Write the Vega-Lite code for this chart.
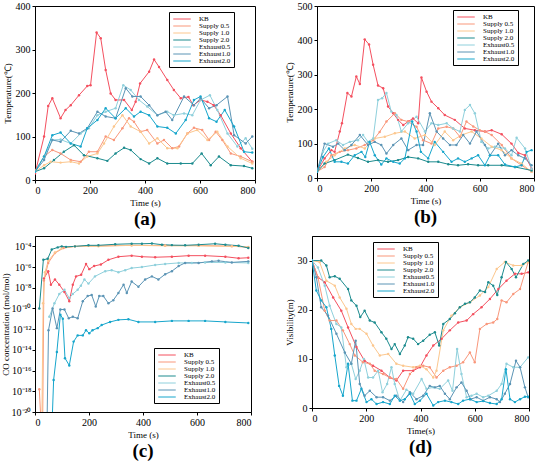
{
  "$schema": "https://vega.github.io/schema/vega-lite/v6.json",
  "padding": {"left": 0, "top": 0, "right": 2, "bottom": 0},
  "config": {
    "font": "Liberation Serif",
    "view": {"stroke": "black", "strokeWidth": 1},
    "axis": {
      "grid": false,
      "domainColor": "black",
      "tickColor": "black",
      "labelColor": "black",
      "titleColor": "black",
      "labelFontSize": 10,
      "titleFontSize": 9,
      "titleFontWeight": "normal",
      "tickSize": 3,
      "labelPadding": 2,
      "titlePadding": 3
    },
    "title": {"fontSize": 19, "fontWeight": "bold", "orient": "bottom", "offset": 3, "color": "black"},
    "legend": {
      "title": null,
      "orient": "none",
      "fillColor": "white",
      "strokeColor": "black",
      "padding": 3,
      "symbolType": "M-2.5,0H2.5",
      "symbolSize": 49,
      "symbolOffset": 6,
      "symbolStrokeWidth": 1.2,
      "labelFontSize": 7,
      "labelOffset": 13,
      "rowPadding": 0
    }
  },
  "datasets": {
    "a": [
      {"s":"KB","t":0,"v":15},{"s":"KB","t":33,"v":100},{"s":"KB","t":48,"v":170},{"s":"KB","t":63,"v":188},{"s":"KB","t":93,"v":142},{"s":"KB","t":111,"v":161},{"s":"KB","t":130,"v":172},{"s":"KB","t":160,"v":195},{"s":"KB","t":190,"v":216},{"s":"KB","t":202,"v":218},{"s":"KB","t":224,"v":339},{"s":"KB","t":239,"v":326},{"s":"KB","t":257,"v":253},{"s":"KB","t":275,"v":199},{"s":"KB","t":293,"v":184},{"s":"KB","t":324,"v":184},{"s":"KB","t":352,"v":161},{"s":"KB","t":366,"v":180},{"s":"KB","t":382,"v":222},{"s":"KB","t":415,"v":249},{"s":"KB","t":433,"v":277},{"s":"KB","t":451,"v":260},{"s":"KB","t":481,"v":230},{"s":"KB","t":505,"v":207},{"s":"KB","t":530,"v":188},{"s":"KB","t":558,"v":191},{"s":"KB","t":576,"v":172},{"s":"KB","t":602,"v":184},{"s":"KB","t":627,"v":180},{"s":"KB","t":650,"v":172},{"s":"KB","t":675,"v":149},{"s":"KB","t":712,"v":107},{"s":"KB","t":748,"v":73},{"s":"KB","t":790,"v":42},
      {"s":"Supply 0.5","t":0,"v":21},{"s":"Supply 0.5","t":33,"v":54},{"s":"Supply 0.5","t":63,"v":69},{"s":"Supply 0.5","t":93,"v":61},{"s":"Supply 0.5","t":130,"v":46},{"s":"Supply 0.5","t":166,"v":42},{"s":"Supply 0.5","t":196,"v":65},{"s":"Supply 0.5","t":227,"v":65},{"s":"Supply 0.5","t":257,"v":100},{"s":"Supply 0.5","t":287,"v":92},{"s":"Supply 0.5","t":318,"v":119},{"s":"Supply 0.5","t":342,"v":142},{"s":"Supply 0.5","t":360,"v":134},{"s":"Supply 0.5","t":384,"v":111},{"s":"Supply 0.5","t":408,"v":115},{"s":"Supply 0.5","t":445,"v":84},{"s":"Supply 0.5","t":469,"v":92},{"s":"Supply 0.5","t":499,"v":73},{"s":"Supply 0.5","t":524,"v":77},{"s":"Supply 0.5","t":554,"v":107},{"s":"Supply 0.5","t":578,"v":120},{"s":"Supply 0.5","t":608,"v":115},{"s":"Supply 0.5","t":633,"v":92},{"s":"Supply 0.5","t":657,"v":111},{"s":"Supply 0.5","t":681,"v":92},{"s":"Supply 0.5","t":712,"v":61},{"s":"Supply 0.5","t":748,"v":54},{"s":"Supply 0.5","t":790,"v":42},
      {"s":"Supply 1.0","t":0,"v":19},{"s":"Supply 1.0","t":33,"v":34},{"s":"Supply 1.0","t":57,"v":42},{"s":"Supply 1.0","t":93,"v":40},{"s":"Supply 1.0","t":130,"v":42},{"s":"Supply 1.0","t":160,"v":38},{"s":"Supply 1.0","t":190,"v":54},{"s":"Supply 1.0","t":227,"v":61},{"s":"Supply 1.0","t":251,"v":84},{"s":"Supply 1.0","t":287,"v":123},{"s":"Supply 1.0","t":318,"v":149},{"s":"Supply 1.0","t":348,"v":123},{"s":"Supply 1.0","t":384,"v":111},{"s":"Supply 1.0","t":415,"v":84},{"s":"Supply 1.0","t":445,"v":96},{"s":"Supply 1.0","t":481,"v":73},{"s":"Supply 1.0","t":518,"v":73},{"s":"Supply 1.0","t":554,"v":107},{"s":"Supply 1.0","t":590,"v":115},{"s":"Supply 1.0","t":627,"v":92},{"s":"Supply 1.0","t":663,"v":111},{"s":"Supply 1.0","t":700,"v":77},{"s":"Supply 1.0","t":748,"v":50},{"s":"Supply 1.0","t":790,"v":38},
      {"s":"Supply 2.0","t":0,"v":19},{"s":"Supply 2.0","t":33,"v":27},{"s":"Supply 2.0","t":69,"v":46},{"s":"Supply 2.0","t":105,"v":65},{"s":"Supply 2.0","t":142,"v":80},{"s":"Supply 2.0","t":178,"v":57},{"s":"Supply 2.0","t":227,"v":50},{"s":"Supply 2.0","t":263,"v":44},{"s":"Supply 2.0","t":293,"v":61},{"s":"Supply 2.0","t":324,"v":74},{"s":"Supply 2.0","t":348,"v":69},{"s":"Supply 2.0","t":384,"v":48},{"s":"Supply 2.0","t":415,"v":38},{"s":"Supply 2.0","t":445,"v":50},{"s":"Supply 2.0","t":481,"v":38},{"s":"Supply 2.0","t":530,"v":38},{"s":"Supply 2.0","t":572,"v":38},{"s":"Supply 2.0","t":606,"v":61},{"s":"Supply 2.0","t":639,"v":34},{"s":"Supply 2.0","t":669,"v":54},{"s":"Supply 2.0","t":712,"v":34},{"s":"Supply 2.0","t":760,"v":32},{"s":"Supply 2.0","t":790,"v":27},
      {"s":"Exhaust0.5","t":0,"v":19},{"s":"Exhaust0.5","t":33,"v":54},{"s":"Exhaust0.5","t":63,"v":92},{"s":"Exhaust0.5","t":93,"v":93},{"s":"Exhaust0.5","t":130,"v":84},{"s":"Exhaust0.5","t":166,"v":107},{"s":"Exhaust0.5","t":196,"v":119},{"s":"Exhaust0.5","t":227,"v":149},{"s":"Exhaust0.5","t":257,"v":157},{"s":"Exhaust0.5","t":293,"v":165},{"s":"Exhaust0.5","t":321,"v":218},{"s":"Exhaust0.5","t":348,"v":207},{"s":"Exhaust0.5","t":378,"v":184},{"s":"Exhaust0.5","t":408,"v":169},{"s":"Exhaust0.5","t":445,"v":149},{"s":"Exhaust0.5","t":481,"v":157},{"s":"Exhaust0.5","t":505,"v":149},{"s":"Exhaust0.5","t":542,"v":153},{"s":"Exhaust0.5","t":572,"v":149},{"s":"Exhaust0.5","t":602,"v":184},{"s":"Exhaust0.5","t":636,"v":195},{"s":"Exhaust0.5","t":663,"v":161},{"s":"Exhaust0.5","t":700,"v":107},{"s":"Exhaust0.5","t":736,"v":77},{"s":"Exhaust0.5","t":766,"v":96},{"s":"Exhaust0.5","t":790,"v":72},
      {"s":"Exhaust1.0","t":0,"v":19},{"s":"Exhaust1.0","t":33,"v":46},{"s":"Exhaust1.0","t":63,"v":92},{"s":"Exhaust1.0","t":93,"v":88},{"s":"Exhaust1.0","t":130,"v":113},{"s":"Exhaust1.0","t":160,"v":107},{"s":"Exhaust1.0","t":190,"v":119},{"s":"Exhaust1.0","t":227,"v":157},{"s":"Exhaust1.0","t":257,"v":146},{"s":"Exhaust1.0","t":293,"v":142},{"s":"Exhaust1.0","t":330,"v":211},{"s":"Exhaust1.0","t":354,"v":192},{"s":"Exhaust1.0","t":384,"v":192},{"s":"Exhaust1.0","t":415,"v":172},{"s":"Exhaust1.0","t":445,"v":149},{"s":"Exhaust1.0","t":475,"v":157},{"s":"Exhaust1.0","t":499,"v":138},{"s":"Exhaust1.0","t":542,"v":192},{"s":"Exhaust1.0","t":578,"v":172},{"s":"Exhaust1.0","t":602,"v":188},{"s":"Exhaust1.0","t":633,"v":165},{"s":"Exhaust1.0","t":660,"v":172},{"s":"Exhaust1.0","t":700,"v":192},{"s":"Exhaust1.0","t":724,"v":103},{"s":"Exhaust1.0","t":766,"v":84},{"s":"Exhaust1.0","t":790,"v":100},
      {"s":"Exhaust2.0","t":0,"v":19},{"s":"Exhaust2.0","t":33,"v":54},{"s":"Exhaust2.0","t":63,"v":103},{"s":"Exhaust2.0","t":93,"v":109},{"s":"Exhaust2.0","t":130,"v":84},{"s":"Exhaust2.0","t":166,"v":77},{"s":"Exhaust2.0","t":190,"v":119},{"s":"Exhaust2.0","t":227,"v":138},{"s":"Exhaust2.0","t":257,"v":165},{"s":"Exhaust2.0","t":293,"v":142},{"s":"Exhaust2.0","t":330,"v":165},{"s":"Exhaust2.0","t":360,"v":146},{"s":"Exhaust2.0","t":384,"v":157},{"s":"Exhaust2.0","t":415,"v":149},{"s":"Exhaust2.0","t":445,"v":123},{"s":"Exhaust2.0","t":481,"v":120},{"s":"Exhaust2.0","t":512,"v":107},{"s":"Exhaust2.0","t":548,"v":138},{"s":"Exhaust2.0","t":578,"v":184},{"s":"Exhaust2.0","t":602,"v":192},{"s":"Exhaust2.0","t":633,"v":142},{"s":"Exhaust2.0","t":660,"v":134},{"s":"Exhaust2.0","t":690,"v":161},{"s":"Exhaust2.0","t":724,"v":123},{"s":"Exhaust2.0","t":760,"v":65},{"s":"Exhaust2.0","t":790,"v":63}
    ],
    "b": [
      {"s":"KB","t":0,"v":18},{"s":"KB","t":28,"v":57},{"s":"KB","t":53,"v":81},{"s":"KB","t":65,"v":76},{"s":"KB","t":84,"v":135},{"s":"KB","t":92,"v":159},{"s":"KB","t":112,"v":247},{"s":"KB","t":127,"v":237},{"s":"KB","t":145,"v":295},{"s":"KB","t":158,"v":273},{"s":"KB","t":176,"v":403},{"s":"KB","t":192,"v":388},{"s":"KB","t":207,"v":329},{"s":"KB","t":225,"v":269},{"s":"KB","t":244,"v":261},{"s":"KB","t":262,"v":208},{"s":"KB","t":281,"v":188},{"s":"KB","t":299,"v":169},{"s":"KB","t":318,"v":154},{"s":"KB","t":336,"v":164},{"s":"KB","t":354,"v":173},{"s":"KB","t":373,"v":159},{"s":"KB","t":385,"v":292},{"s":"KB","t":404,"v":251},{"s":"KB","t":422,"v":222},{"s":"KB","t":447,"v":203},{"s":"KB","t":471,"v":183},{"s":"KB","t":508,"v":169},{"s":"KB","t":545,"v":144},{"s":"KB","t":582,"v":139},{"s":"KB","t":619,"v":135},{"s":"KB","t":644,"v":139},{"s":"KB","t":681,"v":127},{"s":"KB","t":717,"v":100},{"s":"KB","t":742,"v":73},{"s":"KB","t":767,"v":66},{"s":"KB","t":791,"v":27},
      {"s":"Supply 0.5","t":0,"v":18},{"s":"Supply 0.5","t":28,"v":32},{"s":"Supply 0.5","t":53,"v":66},{"s":"Supply 0.5","t":84,"v":76},{"s":"Supply 0.5","t":114,"v":81},{"s":"Supply 0.5","t":145,"v":86},{"s":"Supply 0.5","t":176,"v":96},{"s":"Supply 0.5","t":207,"v":110},{"s":"Supply 0.5","t":231,"v":134},{"s":"Supply 0.5","t":256,"v":164},{"s":"Supply 0.5","t":287,"v":188},{"s":"Supply 0.5","t":311,"v":169},{"s":"Supply 0.5","t":336,"v":164},{"s":"Supply 0.5","t":367,"v":149},{"s":"Supply 0.5","t":391,"v":110},{"s":"Supply 0.5","t":422,"v":100},{"s":"Supply 0.5","t":447,"v":144},{"s":"Supply 0.5","t":478,"v":149},{"s":"Supply 0.5","t":502,"v":144},{"s":"Supply 0.5","t":527,"v":120},{"s":"Supply 0.5","t":551,"v":164},{"s":"Supply 0.5","t":576,"v":150},{"s":"Supply 0.5","t":600,"v":139},{"s":"Supply 0.5","t":619,"v":135},{"s":"Supply 0.5","t":644,"v":125},{"s":"Supply 0.5","t":681,"v":96},{"s":"Supply 0.5","t":717,"v":57},{"s":"Supply 0.5","t":754,"v":37},{"s":"Supply 0.5","t":791,"v":18},
      {"s":"Supply 1.0","t":0,"v":18},{"s":"Supply 1.0","t":34,"v":47},{"s":"Supply 1.0","t":65,"v":66},{"s":"Supply 1.0","t":102,"v":86},{"s":"Supply 1.0","t":139,"v":96},{"s":"Supply 1.0","t":176,"v":86},{"s":"Supply 1.0","t":213,"v":115},{"s":"Supply 1.0","t":250,"v":120},{"s":"Supply 1.0","t":287,"v":130},{"s":"Supply 1.0","t":324,"v":135},{"s":"Supply 1.0","t":360,"v":115},{"s":"Supply 1.0","t":398,"v":125},{"s":"Supply 1.0","t":434,"v":96},{"s":"Supply 1.0","t":471,"v":135},{"s":"Supply 1.0","t":502,"v":110},{"s":"Supply 1.0","t":533,"v":125},{"s":"Supply 1.0","t":570,"v":135},{"s":"Supply 1.0","t":606,"v":115},{"s":"Supply 1.0","t":644,"v":91},{"s":"Supply 1.0","t":681,"v":81},{"s":"Supply 1.0","t":717,"v":57},{"s":"Supply 1.0","t":754,"v":42},{"s":"Supply 1.0","t":791,"v":18},
      {"s":"Supply 2.0","t":0,"v":18},{"s":"Supply 2.0","t":28,"v":42},{"s":"Supply 2.0","t":65,"v":52},{"s":"Supply 2.0","t":114,"v":68},{"s":"Supply 2.0","t":151,"v":58},{"s":"Supply 2.0","t":188,"v":47},{"s":"Supply 2.0","t":225,"v":52},{"s":"Supply 2.0","t":262,"v":47},{"s":"Supply 2.0","t":299,"v":52},{"s":"Supply 2.0","t":336,"v":61},{"s":"Supply 2.0","t":373,"v":57},{"s":"Supply 2.0","t":410,"v":47},{"s":"Supply 2.0","t":447,"v":47},{"s":"Supply 2.0","t":484,"v":40},{"s":"Supply 2.0","t":520,"v":37},{"s":"Supply 2.0","t":557,"v":40},{"s":"Supply 2.0","t":594,"v":37},{"s":"Supply 2.0","t":631,"v":37},{"s":"Supply 2.0","t":681,"v":37},{"s":"Supply 2.0","t":730,"v":32},{"s":"Supply 2.0","t":791,"v":22},
      {"s":"Exhaust0.5","t":0,"v":18},{"s":"Exhaust0.5","t":22,"v":76},{"s":"Exhaust0.5","t":41,"v":100},{"s":"Exhaust0.5","t":71,"v":110},{"s":"Exhaust0.5","t":96,"v":96},{"s":"Exhaust0.5","t":121,"v":105},{"s":"Exhaust0.5","t":151,"v":110},{"s":"Exhaust0.5","t":170,"v":125},{"s":"Exhaust0.5","t":188,"v":105},{"s":"Exhaust0.5","t":207,"v":115},{"s":"Exhaust0.5","t":225,"v":227},{"s":"Exhaust0.5","t":240,"v":232},{"s":"Exhaust0.5","t":256,"v":247},{"s":"Exhaust0.5","t":274,"v":193},{"s":"Exhaust0.5","t":293,"v":183},{"s":"Exhaust0.5","t":311,"v":135},{"s":"Exhaust0.5","t":336,"v":159},{"s":"Exhaust0.5","t":367,"v":178},{"s":"Exhaust0.5","t":398,"v":135},{"s":"Exhaust0.5","t":422,"v":159},{"s":"Exhaust0.5","t":447,"v":154},{"s":"Exhaust0.5","t":478,"v":159},{"s":"Exhaust0.5","t":502,"v":144},{"s":"Exhaust0.5","t":527,"v":135},{"s":"Exhaust0.5","t":545,"v":198},{"s":"Exhaust0.5","t":564,"v":212},{"s":"Exhaust0.5","t":582,"v":188},{"s":"Exhaust0.5","t":606,"v":105},{"s":"Exhaust0.5","t":631,"v":86},{"s":"Exhaust0.5","t":656,"v":91},{"s":"Exhaust0.5","t":693,"v":86},{"s":"Exhaust0.5","t":717,"v":66},{"s":"Exhaust0.5","t":736,"v":117},{"s":"Exhaust0.5","t":767,"v":86},{"s":"Exhaust0.5","t":791,"v":27},
      {"s":"Exhaust1.0","t":0,"v":18},{"s":"Exhaust1.0","t":28,"v":100},{"s":"Exhaust1.0","t":59,"v":91},{"s":"Exhaust1.0","t":78,"v":100},{"s":"Exhaust1.0","t":102,"v":81},{"s":"Exhaust1.0","t":127,"v":96},{"s":"Exhaust1.0","t":158,"v":125},{"s":"Exhaust1.0","t":188,"v":96},{"s":"Exhaust1.0","t":213,"v":105},{"s":"Exhaust1.0","t":237,"v":96},{"s":"Exhaust1.0","t":256,"v":71},{"s":"Exhaust1.0","t":281,"v":96},{"s":"Exhaust1.0","t":311,"v":115},{"s":"Exhaust1.0","t":336,"v":81},{"s":"Exhaust1.0","t":367,"v":96},{"s":"Exhaust1.0","t":391,"v":96},{"s":"Exhaust1.0","t":416,"v":188},{"s":"Exhaust1.0","t":441,"v":135},{"s":"Exhaust1.0","t":465,"v":115},{"s":"Exhaust1.0","t":490,"v":96},{"s":"Exhaust1.0","t":514,"v":96},{"s":"Exhaust1.0","t":539,"v":125},{"s":"Exhaust1.0","t":564,"v":100},{"s":"Exhaust1.0","t":588,"v":135},{"s":"Exhaust1.0","t":619,"v":96},{"s":"Exhaust1.0","t":638,"v":66},{"s":"Exhaust1.0","t":668,"v":100},{"s":"Exhaust1.0","t":693,"v":66},{"s":"Exhaust1.0","t":717,"v":81},{"s":"Exhaust1.0","t":742,"v":66},{"s":"Exhaust1.0","t":767,"v":57},{"s":"Exhaust1.0","t":791,"v":37},
      {"s":"Exhaust2.0","t":0,"v":18},{"s":"Exhaust2.0","t":22,"v":61},{"s":"Exhaust2.0","t":44,"v":86},{"s":"Exhaust2.0","t":65,"v":47},{"s":"Exhaust2.0","t":90,"v":47},{"s":"Exhaust2.0","t":114,"v":42},{"s":"Exhaust2.0","t":139,"v":66},{"s":"Exhaust2.0","t":164,"v":76},{"s":"Exhaust2.0","t":178,"v":61},{"s":"Exhaust2.0","t":194,"v":105},{"s":"Exhaust2.0","t":213,"v":66},{"s":"Exhaust2.0","t":237,"v":39},{"s":"Exhaust2.0","t":256,"v":57},{"s":"Exhaust2.0","t":281,"v":47},{"s":"Exhaust2.0","t":305,"v":42},{"s":"Exhaust2.0","t":324,"v":57},{"s":"Exhaust2.0","t":351,"v":164},{"s":"Exhaust2.0","t":367,"v":135},{"s":"Exhaust2.0","t":383,"v":76},{"s":"Exhaust2.0","t":410,"v":57},{"s":"Exhaust2.0","t":434,"v":105},{"s":"Exhaust2.0","t":465,"v":76},{"s":"Exhaust2.0","t":496,"v":47},{"s":"Exhaust2.0","t":520,"v":57},{"s":"Exhaust2.0","t":545,"v":47},{"s":"Exhaust2.0","t":570,"v":57},{"s":"Exhaust2.0","t":594,"v":66},{"s":"Exhaust2.0","t":619,"v":37},{"s":"Exhaust2.0","t":638,"v":66},{"s":"Exhaust2.0","t":668,"v":66},{"s":"Exhaust2.0","t":693,"v":39},{"s":"Exhaust2.0","t":730,"v":32},{"s":"Exhaust2.0","t":754,"v":37},{"s":"Exhaust2.0","t":773,"v":76},{"s":"Exhaust2.0","t":791,"v":81}
    ],
    "c": [
      {"s":"KB","t":33,"v":-7.1},{"s":"KB","t":49,"v":-6.4},{"s":"KB","t":59,"v":-7.7},{"s":"KB","t":74,"v":-7.2},{"s":"KB","t":90,"v":-7.7},{"s":"KB","t":109,"v":-8.4},{"s":"KB","t":127,"v":-9.3},{"s":"KB","t":140,"v":-7.7},{"s":"KB","t":152,"v":-6.9},{"s":"KB","t":171,"v":-6.75},{"s":"KB","t":189,"v":-5.7},{"s":"KB","t":201,"v":-6.2},{"s":"KB","t":219,"v":-5.9},{"s":"KB","t":244,"v":-5.75},{"s":"KB","t":272,"v":-5.3},{"s":"KB","t":309,"v":-5.0},{"s":"KB","t":358,"v":-4.9},{"s":"KB","t":396,"v":-5.0},{"s":"KB","t":445,"v":-5.05},{"s":"KB","t":507,"v":-5.0},{"s":"KB","t":569,"v":-4.9},{"s":"KB","t":630,"v":-4.9},{"s":"KB","t":705,"v":-5.0},{"s":"KB","t":754,"v":-5.15},{"s":"KB","t":790,"v":-5.1},
      {"s":"Supply 0.5","t":16,"v":-17.8},{"s":"Supply 0.5","t":24,"v":-22},{"s":"Supply 0.5","t":28,"v":-22},{"s":"Supply 0.5","t":33,"v":-7.3},{"s":"Supply 0.5","t":49,"v":-5.6},{"s":"Supply 0.5","t":74,"v":-4.65},{"s":"Supply 0.5","t":105,"v":-4.16},{"s":"Supply 0.5","t":148,"v":-4.0},{"s":"Supply 0.5","t":235,"v":-3.95},{"s":"Supply 0.5","t":358,"v":-3.9},{"s":"Supply 0.5","t":482,"v":-3.92},{"s":"Supply 0.5","t":606,"v":-3.92},{"s":"Supply 0.5","t":729,"v":-3.98},{"s":"Supply 0.5","t":790,"v":-4.08},
      {"s":"Supply 1.0","t":25,"v":-22},{"s":"Supply 1.0","t":30,"v":-9.5},{"s":"Supply 1.0","t":37,"v":-6.5},{"s":"Supply 1.0","t":49,"v":-5.4},{"s":"Supply 1.0","t":74,"v":-4.6},{"s":"Supply 1.0","t":99,"v":-4.2},{"s":"Supply 1.0","t":148,"v":-4.0},{"s":"Supply 1.0","t":235,"v":-4.0},{"s":"Supply 1.0","t":358,"v":-3.9},{"s":"Supply 1.0","t":482,"v":-3.95},{"s":"Supply 1.0","t":606,"v":-3.95},{"s":"Supply 1.0","t":729,"v":-4.0},{"s":"Supply 1.0","t":790,"v":-4.06},
      {"s":"Supply 2.0","t":16,"v":-10.0},{"s":"Supply 2.0","t":31,"v":-5.3},{"s":"Supply 2.0","t":47,"v":-5.2},{"s":"Supply 2.0","t":62,"v":-4.3},{"s":"Supply 2.0","t":84,"v":-4.1},{"s":"Supply 2.0","t":99,"v":-4.0},{"s":"Supply 2.0","t":115,"v":-4.05},{"s":"Supply 2.0","t":148,"v":-4.0},{"s":"Supply 2.0","t":198,"v":-3.9},{"s":"Supply 2.0","t":235,"v":-3.9},{"s":"Supply 2.0","t":297,"v":-3.8},{"s":"Supply 2.0","t":358,"v":-3.75},{"s":"Supply 2.0","t":396,"v":-3.75},{"s":"Supply 2.0","t":433,"v":-3.72},{"s":"Supply 2.0","t":470,"v":-3.84},{"s":"Supply 2.0","t":507,"v":-3.88},{"s":"Supply 2.0","t":556,"v":-3.9},{"s":"Supply 2.0","t":606,"v":-3.84},{"s":"Supply 2.0","t":667,"v":-3.75},{"s":"Supply 2.0","t":705,"v":-3.84},{"s":"Supply 2.0","t":754,"v":-3.94},{"s":"Supply 2.0","t":790,"v":-4.16},
      {"s":"Exhaust0.5","t":53,"v":-10.8},{"s":"Exhaust0.5","t":72,"v":-9.5},{"s":"Exhaust0.5","t":90,"v":-8.6},{"s":"Exhaust0.5","t":109,"v":-8.2},{"s":"Exhaust0.5","t":127,"v":-9.0},{"s":"Exhaust0.5","t":140,"v":-8.6},{"s":"Exhaust0.5","t":158,"v":-8.2},{"s":"Exhaust0.5","t":170,"v":-7.8},{"s":"Exhaust0.5","t":183,"v":-7.2},{"s":"Exhaust0.5","t":198,"v":-7.6},{"s":"Exhaust0.5","t":222,"v":-6.9},{"s":"Exhaust0.5","t":260,"v":-6.4},{"s":"Exhaust0.5","t":284,"v":-6.3},{"s":"Exhaust0.5","t":309,"v":-6.5},{"s":"Exhaust0.5","t":334,"v":-6.3},{"s":"Exhaust0.5","t":358,"v":-6.1},{"s":"Exhaust0.5","t":396,"v":-6.0},{"s":"Exhaust0.5","t":445,"v":-5.8},{"s":"Exhaust0.5","t":482,"v":-5.7},{"s":"Exhaust0.5","t":532,"v":-5.6},{"s":"Exhaust0.5","t":581,"v":-5.6},{"s":"Exhaust0.5","t":630,"v":-5.55},{"s":"Exhaust0.5","t":705,"v":-5.55},{"s":"Exhaust0.5","t":790,"v":-5.6},
      {"s":"Exhaust1.0","t":44,"v":-22},{"s":"Exhaust1.0","t":50,"v":-12.1},{"s":"Exhaust1.0","t":65,"v":-10.0},{"s":"Exhaust1.0","t":81,"v":-11.9},{"s":"Exhaust1.0","t":94,"v":-10.1},{"s":"Exhaust1.0","t":109,"v":-10.1},{"s":"Exhaust1.0","t":125,"v":-10.95},{"s":"Exhaust1.0","t":140,"v":-10.8},{"s":"Exhaust1.0","t":158,"v":-10.95},{"s":"Exhaust1.0","t":177,"v":-9.3},{"s":"Exhaust1.0","t":195,"v":-8.8},{"s":"Exhaust1.0","t":210,"v":-8.7},{"s":"Exhaust1.0","t":225,"v":-9.8},{"s":"Exhaust1.0","t":238,"v":-8.8},{"s":"Exhaust1.0","t":253,"v":-8.8},{"s":"Exhaust1.0","t":272,"v":-9.5},{"s":"Exhaust1.0","t":290,"v":-9.2},{"s":"Exhaust1.0","t":309,"v":-8.5},{"s":"Exhaust1.0","t":328,"v":-7.7},{"s":"Exhaust1.0","t":340,"v":-8.5},{"s":"Exhaust1.0","t":358,"v":-7.4},{"s":"Exhaust1.0","t":383,"v":-7.9},{"s":"Exhaust1.0","t":408,"v":-7.2},{"s":"Exhaust1.0","t":433,"v":-6.9},{"s":"Exhaust1.0","t":457,"v":-7.2},{"s":"Exhaust1.0","t":482,"v":-6.7},{"s":"Exhaust1.0","t":507,"v":-6.4},{"s":"Exhaust1.0","t":532,"v":-5.9},{"s":"Exhaust1.0","t":556,"v":-5.6},{"s":"Exhaust1.0","t":606,"v":-5.6},{"s":"Exhaust1.0","t":655,"v":-5.45},{"s":"Exhaust1.0","t":680,"v":-5.4},{"s":"Exhaust1.0","t":729,"v":-5.55},{"s":"Exhaust1.0","t":790,"v":-5.45},
      {"s":"Exhaust2.0","t":62,"v":-22},{"s":"Exhaust2.0","t":69,"v":-16.9},{"s":"Exhaust2.0","t":81,"v":-14.2},{"s":"Exhaust2.0","t":94,"v":-10.6},{"s":"Exhaust2.0","t":103,"v":-11.0},{"s":"Exhaust2.0","t":111,"v":-14.8},{"s":"Exhaust2.0","t":127,"v":-15.5},{"s":"Exhaust2.0","t":143,"v":-13.2},{"s":"Exhaust2.0","t":158,"v":-12.6},{"s":"Exhaust2.0","t":177,"v":-12.6},{"s":"Exhaust2.0","t":189,"v":-12.1},{"s":"Exhaust2.0","t":201,"v":-12.4},{"s":"Exhaust2.0","t":213,"v":-12.1},{"s":"Exhaust2.0","t":232,"v":-11.9},{"s":"Exhaust2.0","t":247,"v":-11.6},{"s":"Exhaust2.0","t":278,"v":-11.3},{"s":"Exhaust2.0","t":309,"v":-11.1},{"s":"Exhaust2.0","t":346,"v":-11.05},{"s":"Exhaust2.0","t":383,"v":-11.3},{"s":"Exhaust2.0","t":445,"v":-11.3},{"s":"Exhaust2.0","t":507,"v":-11.2},{"s":"Exhaust2.0","t":569,"v":-11.2},{"s":"Exhaust2.0","t":630,"v":-11.2},{"s":"Exhaust2.0","t":705,"v":-11.3},{"s":"Exhaust2.0","t":790,"v":-11.4}
    ],
    "d": [
      {"s":"KB","t":0,"v":30},{"s":"KB","t":22,"v":26.6},{"s":"KB","t":47,"v":25.6},{"s":"KB","t":78,"v":22.5},{"s":"KB","t":108,"v":19.8},{"s":"KB","t":133,"v":16.4},{"s":"KB","t":164,"v":12.4},{"s":"KB","t":194,"v":9.6},{"s":"KB","t":225,"v":8.6},{"s":"KB","t":256,"v":7.6},{"s":"KB","t":287,"v":6.2},{"s":"KB","t":311,"v":5.6},{"s":"KB","t":336,"v":7.6},{"s":"KB","t":373,"v":7.6},{"s":"KB","t":398,"v":8.3},{"s":"KB","t":422,"v":10.7},{"s":"KB","t":447,"v":12.7},{"s":"KB","t":478,"v":14.1},{"s":"KB","t":508,"v":15.8},{"s":"KB","t":539,"v":17.4},{"s":"KB","t":570,"v":17.8},{"s":"KB","t":594,"v":19.1},{"s":"KB","t":625,"v":20.5},{"s":"KB","t":656,"v":22.2},{"s":"KB","t":687,"v":24.2},{"s":"KB","t":717,"v":25.9},{"s":"KB","t":748,"v":27.3},{"s":"KB","t":773,"v":27.3},{"s":"KB","t":797,"v":27.6},
      {"s":"Supply 0.5","t":0,"v":30},{"s":"Supply 0.5","t":22,"v":26.6},{"s":"Supply 0.5","t":47,"v":19.8},{"s":"Supply 0.5","t":65,"v":17.8},{"s":"Supply 0.5","t":90,"v":17.8},{"s":"Supply 0.5","t":114,"v":15.8},{"s":"Supply 0.5","t":139,"v":13.0},{"s":"Supply 0.5","t":158,"v":10.7},{"s":"Supply 0.5","t":188,"v":9.3},{"s":"Supply 0.5","t":213,"v":9.0},{"s":"Supply 0.5","t":231,"v":7.6},{"s":"Supply 0.5","t":262,"v":6.9},{"s":"Supply 0.5","t":287,"v":6.2},{"s":"Supply 0.5","t":311,"v":5.9},{"s":"Supply 0.5","t":336,"v":3.9},{"s":"Supply 0.5","t":361,"v":6.9},{"s":"Supply 0.5","t":385,"v":8.3},{"s":"Supply 0.5","t":410,"v":8.6},{"s":"Supply 0.5","t":434,"v":8.3},{"s":"Supply 0.5","t":459,"v":6.2},{"s":"Supply 0.5","t":484,"v":7.6},{"s":"Supply 0.5","t":508,"v":8.3},{"s":"Supply 0.5","t":533,"v":8.6},{"s":"Supply 0.5","t":557,"v":9.3},{"s":"Supply 0.5","t":582,"v":11.3},{"s":"Supply 0.5","t":600,"v":9.3},{"s":"Supply 0.5","t":619,"v":16.1},{"s":"Supply 0.5","t":644,"v":17.1},{"s":"Supply 0.5","t":668,"v":17.4},{"s":"Supply 0.5","t":683,"v":18.1},{"s":"Supply 0.5","t":699,"v":21.9},{"s":"Supply 0.5","t":717,"v":21.5},{"s":"Supply 0.5","t":742,"v":23.2},{"s":"Supply 0.5","t":767,"v":24.2},{"s":"Supply 0.5","t":797,"v":29.7},
      {"s":"Supply 1.0","t":0,"v":30},{"s":"Supply 1.0","t":28,"v":29.7},{"s":"Supply 1.0","t":53,"v":25.9},{"s":"Supply 1.0","t":84,"v":24.9},{"s":"Supply 1.0","t":102,"v":22.5},{"s":"Supply 1.0","t":127,"v":20.2},{"s":"Supply 1.0","t":145,"v":17.1},{"s":"Supply 1.0","t":161,"v":16.1},{"s":"Supply 1.0","t":176,"v":16.1},{"s":"Supply 1.0","t":201,"v":15.1},{"s":"Supply 1.0","t":225,"v":12.7},{"s":"Supply 1.0","t":250,"v":10.7},{"s":"Supply 1.0","t":281,"v":11.0},{"s":"Supply 1.0","t":311,"v":9.0},{"s":"Supply 1.0","t":336,"v":8.6},{"s":"Supply 1.0","t":373,"v":8.3},{"s":"Supply 1.0","t":398,"v":8.6},{"s":"Supply 1.0","t":422,"v":7.9},{"s":"Supply 1.0","t":447,"v":6.2},{"s":"Supply 1.0","t":459,"v":7.6},{"s":"Supply 1.0","t":484,"v":15.8},{"s":"Supply 1.0","t":514,"v":18.8},{"s":"Supply 1.0","t":545,"v":20.5},{"s":"Supply 1.0","t":582,"v":21.5},{"s":"Supply 1.0","t":619,"v":22.9},{"s":"Supply 1.0","t":650,"v":24.6},{"s":"Supply 1.0","t":681,"v":28.3},{"s":"Supply 1.0","t":711,"v":29.7},{"s":"Supply 1.0","t":742,"v":29.0},{"s":"Supply 1.0","t":773,"v":29.0},{"s":"Supply 1.0","t":797,"v":29.7},
      {"s":"Supply 2.0","t":0,"v":30},{"s":"Supply 2.0","t":34,"v":30},{"s":"Supply 2.0","t":53,"v":29},{"s":"Supply 2.0","t":65,"v":26.6},{"s":"Supply 2.0","t":84,"v":26.8},{"s":"Supply 2.0","t":102,"v":26.3},{"s":"Supply 2.0","t":133,"v":24.2},{"s":"Supply 2.0","t":145,"v":21.9},{"s":"Supply 2.0","t":164,"v":20.8},{"s":"Supply 2.0","t":178,"v":18.5},{"s":"Supply 2.0","t":194,"v":19.8},{"s":"Supply 2.0","t":213,"v":17.8},{"s":"Supply 2.0","t":231,"v":17.4},{"s":"Supply 2.0","t":256,"v":15.4},{"s":"Supply 2.0","t":274,"v":14.1},{"s":"Supply 2.0","t":293,"v":12.0},{"s":"Supply 2.0","t":305,"v":13.0},{"s":"Supply 2.0","t":324,"v":11.0},{"s":"Supply 2.0","t":342,"v":12.7},{"s":"Supply 2.0","t":354,"v":14.4},{"s":"Supply 2.0","t":373,"v":14.1},{"s":"Supply 2.0","t":391,"v":13.0},{"s":"Supply 2.0","t":410,"v":13.7},{"s":"Supply 2.0","t":434,"v":14.9},{"s":"Supply 2.0","t":453,"v":15.4},{"s":"Supply 2.0","t":469,"v":12.7},{"s":"Supply 2.0","t":484,"v":17.1},{"s":"Supply 2.0","t":508,"v":18.1},{"s":"Supply 2.0","t":527,"v":19.3},{"s":"Supply 2.0","t":545,"v":20.5},{"s":"Supply 2.0","t":564,"v":21.2},{"s":"Supply 2.0","t":582,"v":21.5},{"s":"Supply 2.0","t":600,"v":22.5},{"s":"Supply 2.0","t":619,"v":23.9},{"s":"Supply 2.0","t":638,"v":23.6},{"s":"Supply 2.0","t":650,"v":25.6},{"s":"Supply 2.0","t":668,"v":24.9},{"s":"Supply 2.0","t":683,"v":23.0},{"s":"Supply 2.0","t":699,"v":26.6},{"s":"Supply 2.0","t":715,"v":29.7},{"s":"Supply 2.0","t":736,"v":28.3},{"s":"Supply 2.0","t":752,"v":26.6},{"s":"Supply 2.0","t":779,"v":29.3},{"s":"Supply 2.0","t":797,"v":30},
      {"s":"Exhaust0.5","t":0,"v":30},{"s":"Exhaust0.5","t":22,"v":28.6},{"s":"Exhaust0.5","t":47,"v":24.9},{"s":"Exhaust0.5","t":65,"v":20.8},{"s":"Exhaust0.5","t":90,"v":17.1},{"s":"Exhaust0.5","t":108,"v":16.4},{"s":"Exhaust0.5","t":127,"v":8.3},{"s":"Exhaust0.5","t":145,"v":9.0},{"s":"Exhaust0.5","t":161,"v":5.9},{"s":"Exhaust0.5","t":176,"v":7.6},{"s":"Exhaust0.5","t":191,"v":10.0},{"s":"Exhaust0.5","t":207,"v":6.2},{"s":"Exhaust0.5","t":225,"v":6.2},{"s":"Exhaust0.5","t":244,"v":7.6},{"s":"Exhaust0.5","t":260,"v":3.2},{"s":"Exhaust0.5","t":277,"v":4.9},{"s":"Exhaust0.5","t":293,"v":8.3},{"s":"Exhaust0.5","t":305,"v":4.9},{"s":"Exhaust0.5","t":324,"v":1.5},{"s":"Exhaust0.5","t":348,"v":3.7},{"s":"Exhaust0.5","t":373,"v":2.9},{"s":"Exhaust0.5","t":404,"v":5.9},{"s":"Exhaust0.5","t":422,"v":3.9},{"s":"Exhaust0.5","t":447,"v":4.2},{"s":"Exhaust0.5","t":471,"v":3.9},{"s":"Exhaust0.5","t":502,"v":5.6},{"s":"Exhaust0.5","t":518,"v":3.5},{"s":"Exhaust0.5","t":535,"v":12.0},{"s":"Exhaust0.5","t":551,"v":6.9},{"s":"Exhaust0.5","t":570,"v":2.2},{"s":"Exhaust0.5","t":588,"v":2.5},{"s":"Exhaust0.5","t":607,"v":2.9},{"s":"Exhaust0.5","t":631,"v":2.2},{"s":"Exhaust0.5","t":650,"v":2.5},{"s":"Exhaust0.5","t":681,"v":3.5},{"s":"Exhaust0.5","t":699,"v":4.9},{"s":"Exhaust0.5","t":717,"v":9.0},{"s":"Exhaust0.5","t":742,"v":8.3},{"s":"Exhaust0.5","t":767,"v":8.3},{"s":"Exhaust0.5","t":797,"v":10.3},
      {"s":"Exhaust1.0","t":0,"v":30},{"s":"Exhaust1.0","t":16,"v":26.6},{"s":"Exhaust1.0","t":34,"v":20.5},{"s":"Exhaust1.0","t":59,"v":18.8},{"s":"Exhaust1.0","t":90,"v":15.1},{"s":"Exhaust1.0","t":121,"v":11.3},{"s":"Exhaust1.0","t":145,"v":9.0},{"s":"Exhaust1.0","t":161,"v":13.7},{"s":"Exhaust1.0","t":176,"v":4.9},{"s":"Exhaust1.0","t":194,"v":2.5},{"s":"Exhaust1.0","t":213,"v":3.5},{"s":"Exhaust1.0","t":238,"v":2.2},{"s":"Exhaust1.0","t":262,"v":2.2},{"s":"Exhaust1.0","t":287,"v":1.5},{"s":"Exhaust1.0","t":311,"v":2.5},{"s":"Exhaust1.0","t":336,"v":1.2},{"s":"Exhaust1.0","t":361,"v":3.2},{"s":"Exhaust1.0","t":385,"v":1.8},{"s":"Exhaust1.0","t":410,"v":2.5},{"s":"Exhaust1.0","t":434,"v":4.5},{"s":"Exhaust1.0","t":453,"v":4.2},{"s":"Exhaust1.0","t":471,"v":4.5},{"s":"Exhaust1.0","t":490,"v":2.9},{"s":"Exhaust1.0","t":508,"v":1.8},{"s":"Exhaust1.0","t":533,"v":4.2},{"s":"Exhaust1.0","t":551,"v":5.2},{"s":"Exhaust1.0","t":570,"v":3.5},{"s":"Exhaust1.0","t":585,"v":1.8},{"s":"Exhaust1.0","t":607,"v":2.2},{"s":"Exhaust1.0","t":631,"v":1.5},{"s":"Exhaust1.0","t":656,"v":2.2},{"s":"Exhaust1.0","t":681,"v":1.8},{"s":"Exhaust1.0","t":693,"v":1.2},{"s":"Exhaust1.0","t":711,"v":2.9},{"s":"Exhaust1.0","t":730,"v":4.9},{"s":"Exhaust1.0","t":752,"v":9.6},{"s":"Exhaust1.0","t":767,"v":8.3},{"s":"Exhaust1.0","t":785,"v":4.2},{"s":"Exhaust1.0","t":797,"v":2.2},
      {"s":"Exhaust2.0","t":0,"v":30},{"s":"Exhaust2.0","t":16,"v":23.9},{"s":"Exhaust2.0","t":34,"v":21.9},{"s":"Exhaust2.0","t":53,"v":20.5},{"s":"Exhaust2.0","t":71,"v":16.1},{"s":"Exhaust2.0","t":84,"v":10.7},{"s":"Exhaust2.0","t":100,"v":4.5},{"s":"Exhaust2.0","t":114,"v":2.5},{"s":"Exhaust2.0","t":133,"v":9.0},{"s":"Exhaust2.0","t":149,"v":1.5},{"s":"Exhaust2.0","t":164,"v":1.5},{"s":"Exhaust2.0","t":182,"v":3.9},{"s":"Exhaust2.0","t":201,"v":1.2},{"s":"Exhaust2.0","t":219,"v":1.8},{"s":"Exhaust2.0","t":238,"v":0.8},{"s":"Exhaust2.0","t":262,"v":1.2},{"s":"Exhaust2.0","t":287,"v":0.8},{"s":"Exhaust2.0","t":305,"v":2.5},{"s":"Exhaust2.0","t":324,"v":1.5},{"s":"Exhaust2.0","t":342,"v":1.8},{"s":"Exhaust2.0","t":361,"v":2.9},{"s":"Exhaust2.0","t":379,"v":0.8},{"s":"Exhaust2.0","t":398,"v":1.5},{"s":"Exhaust2.0","t":422,"v":2.9},{"s":"Exhaust2.0","t":447,"v":0.5},{"s":"Exhaust2.0","t":465,"v":1.2},{"s":"Exhaust2.0","t":490,"v":1.5},{"s":"Exhaust2.0","t":514,"v":1.2},{"s":"Exhaust2.0","t":539,"v":0.8},{"s":"Exhaust2.0","t":557,"v":1.5},{"s":"Exhaust2.0","t":582,"v":1.8},{"s":"Exhaust2.0","t":607,"v":1.2},{"s":"Exhaust2.0","t":631,"v":1.4},{"s":"Exhaust2.0","t":656,"v":1.0},{"s":"Exhaust2.0","t":681,"v":0.8},{"s":"Exhaust2.0","t":699,"v":1.8},{"s":"Exhaust2.0","t":715,"v":7.9},{"s":"Exhaust2.0","t":730,"v":1.8},{"s":"Exhaust2.0","t":748,"v":1.2},{"s":"Exhaust2.0","t":767,"v":1.8},{"s":"Exhaust2.0","t":785,"v":2.3},{"s":"Exhaust2.0","t":797,"v":2.3}
    ]
  },
  "vconcat": [
    {
      "hconcat": [
        {
          "width": 220, "height": 174,
          "title": "(a)",
          "data": {"name": "a"},
          "mark": {"type": "line", "clip": true, "strokeWidth": 1, "point": {"filled": true, "size": 6}},
          "encoding": {
            "x": {"field": "t", "type": "quantitative", "title": "Time (s)", "scale": {"domain": [0, 800]}, "axis": {"values": [0, 200, 400, 600, 800]}},
            "y": {"field": "v", "type": "quantitative", "title": "Temperature(℃)", "scale": {"domain": [0, 400]}, "axis": {"values": [0, 100, 200, 300, 400]}},
            "color": {"field": "s", "type": "nominal", "scale": {"domain": ["KB", "Supply 0.5", "Supply 1.0", "Supply 2.0", "Exhaust0.5", "Exhaust1.0", "Exhaust2.0"], "range": ["#f4505f", "#f9977b", "#fcc78e", "#1c8b8e", "#8fd0dc", "#5b94b5", "#17a6cc"]}, "legend": {"legendX": 134, "legendY": 6}},
            "strokeWidth": {"field": "s", "type": "ordinal", "scale": {"domain": ["KB", "Supply 0.5", "Supply 1.0", "Supply 2.0", "Exhaust0.5", "Exhaust1.0", "Exhaust2.0"], "range": [1, 1, 1, 1.8, 1, 1, 1.8]}, "legend": null}
          }
        },
        {
          "width": 217, "height": 172,
          "title": "(b)",
          "data": {"name": "b"},
          "mark": {"type": "line", "clip": true, "strokeWidth": 1, "point": {"filled": true, "size": 6}},
          "encoding": {
            "x": {"field": "t", "type": "quantitative", "title": "Time (s)", "scale": {"domain": [0, 800]}, "axis": {"values": [0, 200, 400, 600, 800]}},
            "y": {"field": "v", "type": "quantitative", "title": "Temperature(℃)", "scale": {"domain": [0, 500]}, "axis": {"values": [0, 100, 200, 300, 400, 500]}},
            "color": {"field": "s", "type": "nominal", "scale": {"domain": ["KB", "Supply 0.5", "Supply 1.0", "Supply 2.0", "Exhaust0.5", "Exhaust1.0", "Exhaust2.0"], "range": ["#f4505f", "#f9977b", "#fcc78e", "#1c8b8e", "#8fd0dc", "#5b94b5", "#17a6cc"]}, "legend": {"legendX": 136, "legendY": 4}},
            "strokeWidth": {"field": "s", "type": "ordinal", "scale": {"domain": ["KB", "Supply 0.5", "Supply 1.0", "Supply 2.0", "Exhaust0.5", "Exhaust1.0", "Exhaust2.0"], "range": [1, 1, 1, 1.8, 1, 1, 1.8]}, "legend": null}
          }
        }
      ],
      "spacing": 28,
      "resolve": {"scale": {"color": "independent", "strokeWidth": "independent"}, "legend": {"color": "independent"}}
    },
    {
      "hconcat": [
        {
          "width": 216, "height": 176,
          "title": "(c)",
          "data": {"name": "c"},
          "mark": {"type": "line", "clip": true, "strokeWidth": 1, "point": {"filled": true, "size": 6}},
          "encoding": {
            "x": {"field": "t", "type": "quantitative", "title": "Time (s)", "scale": {"domain": [0, 800]}, "axis": {"values": [0, 200, 400, 600, 800]}},
            "y": {"field": "v", "type": "quantitative", "title": "CO concentration (mol/mol)", "scale": {"domain": [-20, -3]}, "axis": {"values": [-20, -18, -16, -14, -12, -10, -8, -6, -4], "titlePadding": 1, "labelPadding": 1, "labelExpr": "'10' + (datum.value == -4 ? '⁻⁴' : datum.value == -6 ? '⁻⁶' : datum.value == -8 ? '⁻⁸' : datum.value == -10 ? '⁻¹⁰' : datum.value == -12 ? '⁻¹²' : datum.value == -14 ? '⁻¹⁴' : datum.value == -16 ? '⁻¹⁶' : datum.value == -18 ? '⁻¹⁸' : '⁻²⁰')"}},
            "color": {"field": "s", "type": "nominal", "scale": {"domain": ["KB", "Supply 0.5", "Supply 1.0", "Supply 2.0", "Exhaust0.5", "Exhaust1.0", "Exhaust2.0"], "range": ["#f4505f", "#f9977b", "#fcc78e", "#1c8b8e", "#8fd0dc", "#5b94b5", "#17a6cc"]}, "legend": {"legendX": 119, "legendY": 112}},
            "strokeWidth": {"field": "s", "type": "ordinal", "scale": {"domain": ["KB", "Supply 0.5", "Supply 1.0", "Supply 2.0", "Exhaust0.5", "Exhaust1.0", "Exhaust2.0"], "range": [1, 1, 1, 1.8, 1, 1, 1.8]}, "legend": null}
          }
        },
        {
          "width": 217, "height": 172,
          "title": "(d)",
          "data": {"name": "d"},
          "mark": {"type": "line", "clip": true, "strokeWidth": 1, "point": {"filled": true, "size": 6}},
          "encoding": {
            "x": {"field": "t", "type": "quantitative", "title": "Time(s)", "scale": {"domain": [0, 800]}, "axis": {"values": [0, 200, 400, 600, 800]}},
            "y": {"field": "v", "type": "quantitative", "title": "Visibility(m)", "scale": {"domain": [0, 35]}, "axis": {"values": [0, 10, 20, 30]}},
            "color": {"field": "s", "type": "nominal", "scale": {"domain": ["KB", "Supply 0.5", "Supply 1.0", "Supply 2.0", "Exhaust0.5", "Exhaust1.0", "Exhaust2.0"], "range": ["#f4505f", "#f9977b", "#fcc78e", "#1c8b8e", "#8fd0dc", "#5b94b5", "#17a6cc"]}, "legend": {"legendX": 61, "legendY": 6}},
            "strokeWidth": {"field": "s", "type": "ordinal", "scale": {"domain": ["KB", "Supply 0.5", "Supply 1.0", "Supply 2.0", "Exhaust0.5", "Exhaust1.0", "Exhaust2.0"], "range": [1, 1, 1, 1.8, 1, 1, 1.8]}, "legend": null}
          }
        }
      ],
      "spacing": 32,
      "resolve": {"scale": {"color": "independent", "strokeWidth": "independent"}, "legend": {"color": "independent"}}
    }
  ],
  "spacing": 5,
  "resolve": {"scale": {"color": "independent", "strokeWidth": "independent"}, "legend": {"color": "independent"}}
}
